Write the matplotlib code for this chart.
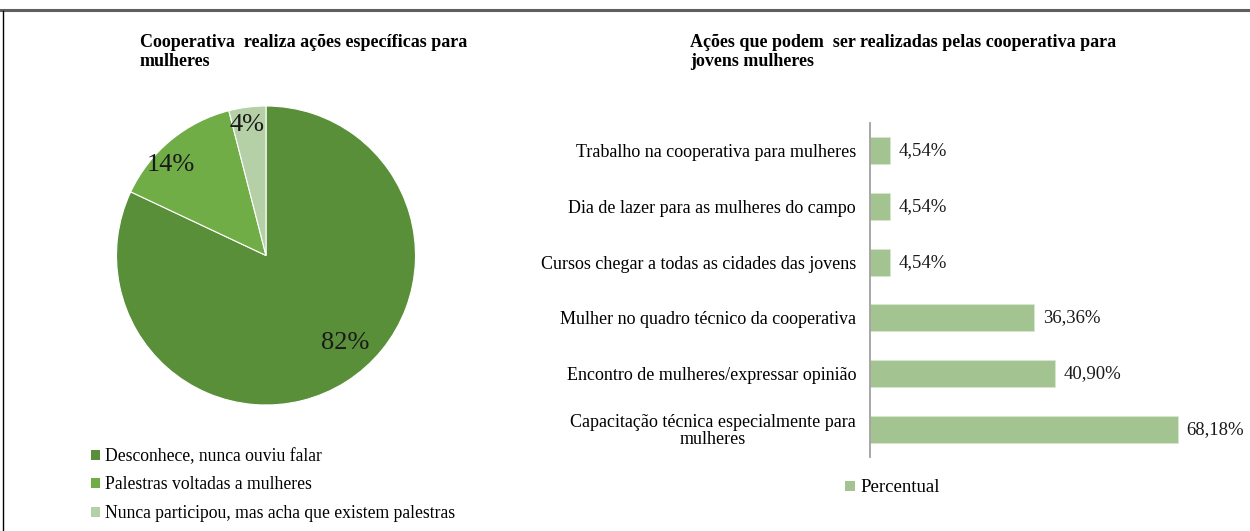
import numpy as np
import matplotlib.pyplot as plt
from matplotlib.patches import Patch
from matplotlib.lines import Line2D

plt.rcParams['font.family'] = ['Liberation Serif', 'DejaVu Serif']

# pie data
pie_labels = ['Desconhece, nunca ouviu falar',
              'Palestras voltadas a mulheres',
              'Nunca participou, mas acha que existem palestras']
pie_values = [82, 14, 4]
pie_colors = ['#5A8F3A', '#70AD47', '#B5CFA6']

# bar data (top to bottom)
bar_labels = ['Trabalho na cooperativa para mulheres',
              'Dia de lazer para as mulheres do campo',
              'Cursos chegar a todas as cidades das jovens',
              'Mulher no quadro técnico da cooperativa',
              'Encontro de mulheres/expressar opinião',
              'Capacitação técnica especialmente para\nmulheres']
bar_values = [4.54, 4.54, 4.54, 36.36, 40.90, 68.18]
bar_color = '#A3C490'

W, H = 1250, 531
fig = plt.figure(figsize=(W / 100, H / 100), dpi=100)

def box(x0, y0, x1, y1):
    # pixel box -> figure fraction
    return [x0 / W, 1 - y1 / H, (x1 - x0) / W, (y1 - y0) / H]

# frame lines
fig.add_artist(Line2D([0, 1], [1 - 10 / H, 1 - 10 / H], color='#5f5f5f', lw=2.2))
fig.add_artist(Line2D([3 / W, 3 / W], [0, 1 - 11 / H], color='black', lw=1.0))

# ---- pie ----
ax1 = fig.add_axes(box(116.5, 106, 415.5, 405))
wedges, _, autotexts = ax1.pie(pie_values, colors=pie_colors, startangle=90,
                               counterclock=False, autopct='%1.0f%%',
                               pctdistance=0.9,
                               wedgeprops=dict(edgecolor='white', linewidth=0.8),
                               textprops=dict(fontsize=19, color='#1a1a1a'))
# nudge labels like the original
tweaks = [(0.79, 10), (0.88, 7), (0.88, 1)]
for t, w, (r, da) in zip(autotexts, wedges, tweaks):
    ang = np.deg2rad((w.theta1 + w.theta2) / 2 + da)
    t.set_position((r * np.cos(ang), r * np.sin(ang)))
ax1.set_xlim(-1, 1)
ax1.set_ylim(-1, 1)
ax1.set_aspect('equal')

fig.text(140 / W, 1 - 52 / H, 'Cooperativa  realiza ações específicas para\nmulheres',
         fontsize=13, fontweight='bold', ha='left', va='center', linespacing=1.2)

handles = [Patch(facecolor=c, edgecolor='none') for c in pie_colors]
fig.legend(handles, pie_labels, loc='upper left', bbox_to_anchor=(82 / W, 1 - 439 / H),
           frameon=False, fontsize=12.7, handlelength=0.5, handleheight=0.5,
           handletextpad=0.3, labelspacing=0.66, borderpad=0)

# ---- bars ----
ax2 = fig.add_axes(box(870, 123, 1231, 457))
y = np.arange(len(bar_values))
ax2.barh(y, bar_values, height=0.49, color=bar_color, edgecolor='#d8e6cf', linewidth=0.6)
ax2.set_ylim(len(bar_values) - 0.5, -0.5)
ax2.set_xlim(0, 80)
ax2.set_yticks(y)
ax2.set_yticklabels(bar_labels, fontsize=13, linespacing=1.0, multialignment='center')
ax2.tick_params(axis='y', length=0, pad=10)
ax2.set_xticks([])
for s in ['top', 'right', 'bottom']:
    ax2.spines[s].set_visible(False)
ax2.spines['left'].set_color('#a0a0a0')
ax2.spines['left'].set_linewidth(1.3)
for yi, v in zip(y, bar_values):
    ax2.text(v + 1.9, yi, f'{v:.2f}%'.replace('.', ','), va='center', ha='left',
             fontsize=13.5, color='#1a1a1a')

fig.text(690 / W, 1 - 52 / H, 'Ações que podem  ser realizadas pelas cooperativa para\njovens mulheres',
         fontsize=13, fontweight='bold', ha='left', va='center', linespacing=1.2)

fig.legend([Patch(facecolor=bar_color, edgecolor='none')], ['Percentual'], loc='center left',
           bbox_to_anchor=(836 / W, 1 - 488 / H), frameon=False, fontsize=13.5,
           handlelength=0.5, handleheight=0.5, handletextpad=0.3, borderpad=0)

fig.savefig('out.png', dpi=100, facecolor='white')
